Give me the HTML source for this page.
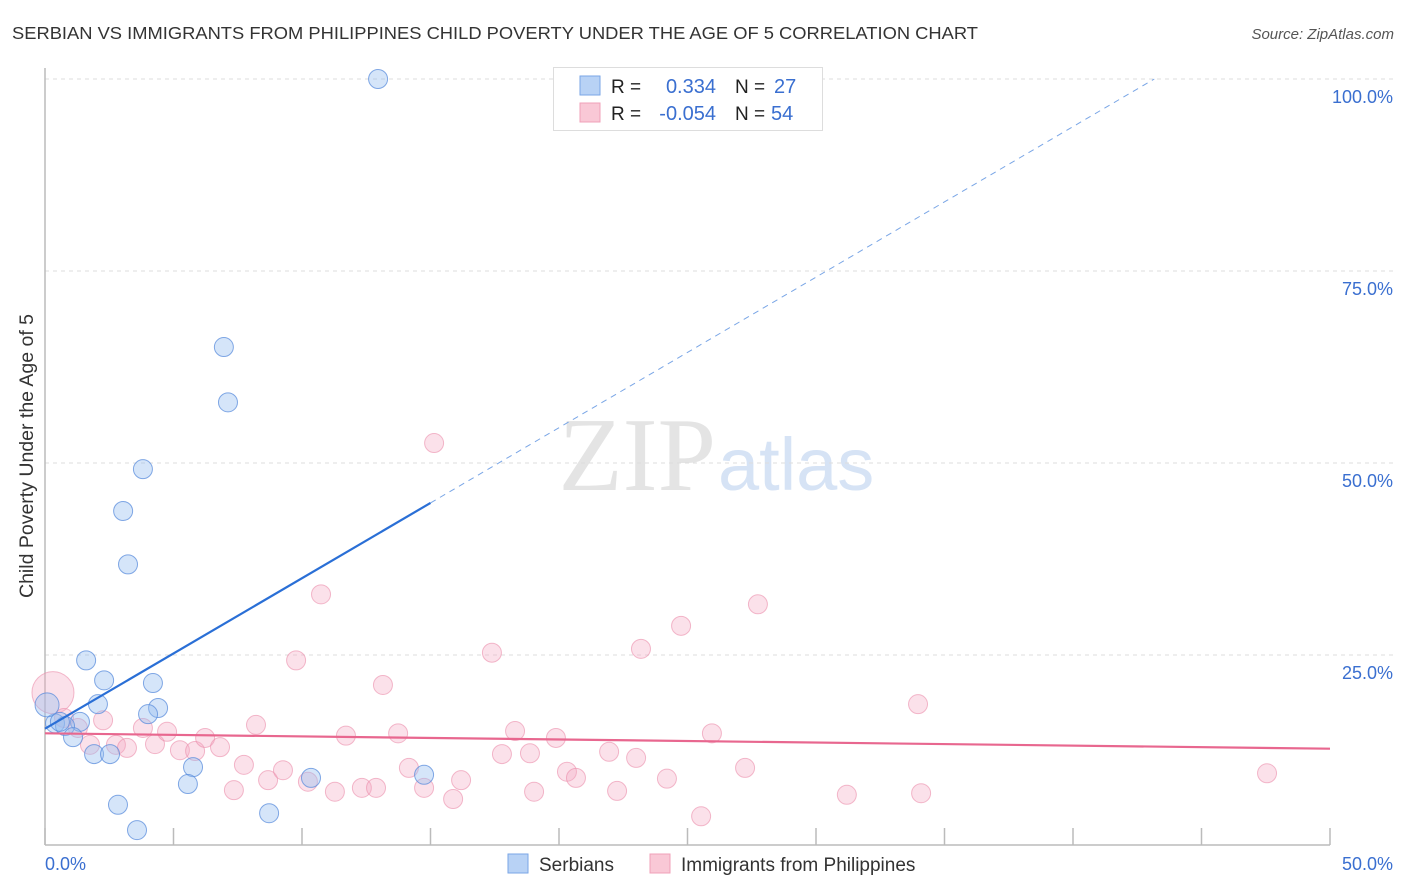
<!DOCTYPE html>
<html><head><meta charset="utf-8"><style>
body{margin:0;background:#fff;font-family:"Liberation Sans",sans-serif;}
svg{display:block}
</style></head><body>
<svg id="c" width="1406" height="892" xmlns="http://www.w3.org/2000/svg">
<text x="12" y="39" font-size="17.5" fill="#333" textLength="966" lengthAdjust="spacingAndGlyphs">SERBIAN VS IMMIGRANTS FROM PHILIPPINES CHILD POVERTY UNDER THE AGE OF 5 CORRELATION CHART</text>
<text x="1394" y="39" font-size="15" fill="#555" font-style="italic" text-anchor="end">Source: ZipAtlas.com</text>
<text x="716" y="490" font-size="105" fill="#e4e4e4" text-anchor="end" font-family="Liberation Serif,serif">ZIP</text>
<text x="718" y="490" font-size="74" fill="#d6e3f5">atlas</text>
<text transform="translate(33,456) rotate(-90)" font-size="19.5" fill="#333" text-anchor="middle">Child Poverty Under the Age of 5</text>
<g id="grid"></g><g id="axes"></g><g id="pts"></g><g id="lines"></g>
<g>
<rect x="553.5" y="67.5" width="269" height="63" fill="#fff" stroke="#ddd"/>
<rect x="580" y="76" width="20" height="19" fill="#b8d2f5" stroke="#7aa6e6"/>
<rect x="580" y="103" width="20" height="19" fill="#f9c8d6" stroke="#f0a0b8"/>
<text x="611" y="93" font-size="19" fill="#222">R = </text><text x="716" y="93" font-size="20" fill="#3a6fd0" text-anchor="end">0.334</text>
<text x="735" y="93" font-size="19" fill="#222">N = </text><text x="774" y="93" font-size="20" fill="#3a6fd0">27</text>
<text x="611" y="120" font-size="19" fill="#222">R = </text><text x="716" y="120" font-size="20" fill="#3a6fd0" text-anchor="end">-0.054</text>
<text x="735" y="120" font-size="19" fill="#222">N = </text><text x="771" y="120" font-size="20" fill="#3a6fd0">54</text>
</g>
<g>
<rect x="508" y="854" width="20" height="19" fill="#b8d2f5" stroke="#7aa6e6"/>
<text x="539" y="871" font-size="19" fill="#333">Serbians</text>
<rect x="650" y="854" width="20" height="19" fill="#f9c8d6" stroke="#f0a0b8"/>
<text x="681" y="871" font-size="19" fill="#333">Immigrants from Philippines</text>
</g>
</svg>
<script>
const xTicks=[0,5,10,15,20,25,30,35,40,45,50];
const yTicks=[25,50,75,100];
const blueX=[12.96,6.96,7.12,3.81,3.04,3.23,1.60,2.30,4.20,2.06,4.40,4.01,0.39,1.36,0.78,1.09,1.91,2.53,5.76,5.56,10.35,14.75,2.84,3.58,8.72,0.08,0.58];
const blueY=[100,65.1,57.9,49.2,43.75,36.8,24.3,21.7,21.35,18.6,18.1,17.3,16.1,16.3,15.75,14.3,12.1,12.1,10.4,8.2,9.0,9.4,5.5,2.2,4.4,18.5,16.3];
const pinkX=[0.31,0.74,1.28,2.26,1.75,2.76,3.19,3.81,4.28,4.75,5.25,5.84,6.23,6.81,7.35,7.74,8.21,8.68,9.26,9.77,10.23,10.74,11.28,11.71,12.33,12.88,13.15,13.74,14.16,14.75,15.14,15.88,16.19,17.39,17.78,18.29,18.87,19.03,19.88,20.31,20.66,21.95,22.26,23.0,23.19,24.2,24.75,25.53,25.95,27.24,27.74,31.2,33.97,34.09,47.55];
const pinkY=[20.1,16.8,15.5,16.5,13.3,13.3,12.9,15.5,13.4,15.0,12.6,12.5,14.2,13.0,7.4,10.7,15.9,8.7,10.0,24.3,8.5,32.9,7.2,14.5,7.7,7.7,21.1,14.8,10.3,7.7,52.6,6.25,8.7,25.3,12.1,15.1,12.2,7.2,14.2,9.8,9.0,12.4,7.3,11.6,25.8,8.9,28.8,4.0,14.8,10.3,31.6,6.8,18.6,7.0,9.6];
const blueLine=[15.4,1.96];
const pinkLine=[14.8,-0.04];
const NS="http://www.w3.org/2000/svg";
const X=v=>45+v*25.7, Y=v=>847-v*7.68;
function mk(p,t,a){const e=document.createElementNS(NS,t);for(const k in a)e.setAttribute(k,a[k]);p.appendChild(e);return e;}
const grid=document.getElementById('grid'),axes=document.getElementById('axes'),pts=document.getElementById('pts'),lines=document.getElementById('lines');
yTicks.forEach(t=>{
 const l=mk(grid,'line',{x1:45,x2:1395,y1:Y(t),y2:Y(t),stroke:'#ddd','stroke-dasharray':'4,4'});
 
 
 const tx=mk(grid,'text',{x:1393,y:Y(t)+24,'font-size':18,fill:'#3a6fd0','text-anchor':'end'});tx.textContent=t.toFixed(1)+'%';
 
 
});
mk(axes,'line',{x1:45,x2:45,y1:68,y2:845,stroke:'#bbb','stroke-width':1.5});
mk(axes,'line',{x1:45,x2:1330,y1:845,y2:845,stroke:'#bbb','stroke-width':1.5});
xTicks.forEach(t=>{
 const l=mk(axes,'line',{x1:X(t),x2:X(t),y1:828,y2:845,stroke:'#bbb','stroke-width':1.5});
 
 
});
[[0,'start'],[50,'end']].forEach(([t,a])=>{
 const tx=mk(axes,'text',{x:t==0?45:1393,y:870,'font-size':18,fill:'#3a6fd0','text-anchor':a});tx.textContent=t.toFixed(1)+'%';
 
 
});
pinkX.forEach((x,i)=>{
 const c=mk(pts,'circle',{cx:X(x),cy:Y(pinkY[i]),r:i==0?21:9.5,fill:'rgba(244,170,195,0.35)',stroke:'rgba(235,140,170,0.6)'});
 
 
});
blueX.forEach((x,i)=>{
 const c=mk(pts,'circle',{cx:X(x),cy:Y(blueY[i]),r:i==25?12:9.5,fill:'rgba(150,190,240,0.4)',stroke:'rgba(90,140,220,0.75)'});
 
 
});
const bx2=(100-blueLine[0])/blueLine[1];
let l1=mk(lines,'line',{x1:X(0),y1:Y(blueLine[0]),x2:X(15),y2:Y(blueLine[0]+15*blueLine[1]),stroke:'#2a6fd6','stroke-width':2.2});


let l2=mk(lines,'line',{x1:X(15),y1:Y(blueLine[0]+15*blueLine[1]),x2:X(bx2),y2:Y(100),stroke:'#7aa6e6','stroke-width':1,'stroke-dasharray':'6,5'});


let l3=mk(lines,'line',{x1:X(0),y1:Y(pinkLine[0]),x2:X(50),y2:Y(pinkLine[0]+50*pinkLine[1]),stroke:'#e8678f','stroke-width':2.2});


</script>
</body></html>
